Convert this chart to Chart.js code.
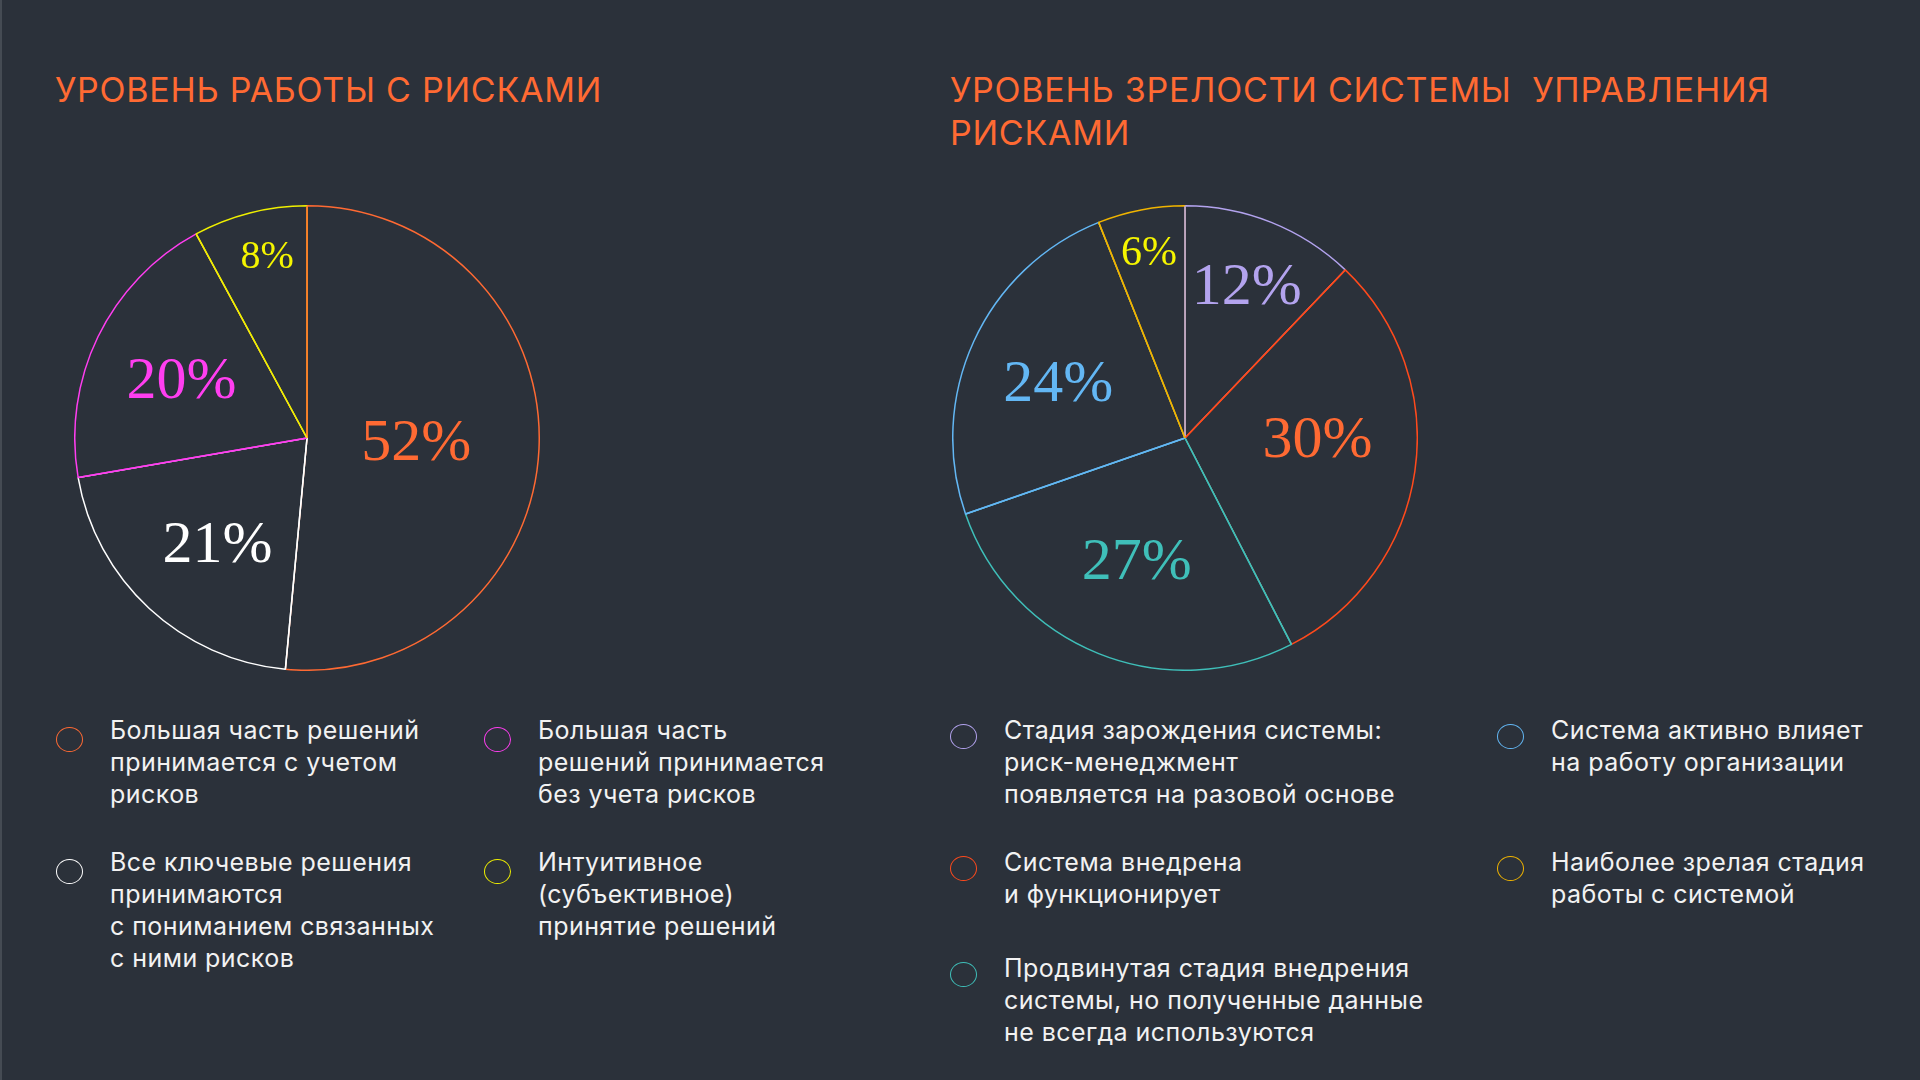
<!DOCTYPE html>
<html lang="ru">
<head>
<meta charset="utf-8">
<title>Риски</title>
<script src="https://cdn.jsdelivr.net/npm/chart.js@4.4.1/dist/chart.umd.min.js"></script>
<style>
  html, body { margin: 0; padding: 0; }
  body {
    width: 1920px; height: 1080px; overflow: hidden; position: relative;
    background: #2b313a; border-left: 2px solid #454b53; box-sizing: border-box;
    font-family: Inter, Roboto, "Noto Sans", sans-serif; color: #f2f2f2;
  }
  .title {
    position: absolute; top: 68px; margin: 0;
    font-size: 34px; font-weight: 400; line-height: 43px; color: #ff6a33;
    white-space: pre; letter-spacing: 0.75px;
  }
  .pie { position: absolute; top: 205px; }
  .legend {
    position: absolute; top: 714px; display: grid; grid-auto-flow: column;
  }
  .item { display: flex; align-items: flex-start; }
  .dot {
    flex: none; width: 25px; height: 23px; border-radius: 50%;
    border: 1.5px solid #fff; margin-right: 27px;
  }
  .txt { font-size: 25px; line-height: 32px; letter-spacing: 0.45px; white-space: pre; }
  #legendA { left: 54px; grid-template-columns: 428px 400px; grid-template-rows: 132px 140px; }
  #legendA .dot { margin-top: 13px; }
  #legendB { left: 948px; grid-template-columns: 547px 400px; grid-template-rows: 132px 106px 120px; }
  #legendB .dot { margin-top: 10px; }
</style>
</head>
<body>
<h2 class="title" id="titleA" style="left:53px"></h2>
<h2 class="title" id="titleB" style="left:948px"></h2>
<canvas id="pieA" class="pie" width="466" height="466" style="left:72px"></canvas>
<canvas id="pieB" class="pie" width="466" height="466" style="left:950px"></canvas>
<div class="legend" id="legendA"></div>
<div class="legend" id="legendB"></div>

<script>
  // --- left chart: уровень работы с рисками
  const titleA = ['УРОВЕНЬ РАБОТЫ С РИСКАМИ'];
  const labelsA = [
    ['Большая часть решений', 'принимается с учетом', 'рисков'],
    ['Все ключевые решения', 'принимаются', 'с пониманием связанных', 'с ними рисков'],
    ['Большая часть', 'решений принимается', 'без учета рисков'],
    ['Интуитивное', '(субъективное)', 'принятие решений']
  ];
  const valuesA = [52, 21, 20, 8];

  // --- right chart: уровень зрелости системы
  const titleB = ['УРОВЕНЬ ЗРЕЛОСТИ СИСТЕМЫ  УПРАВЛЕНИЯ', 'РИСКАМИ'];
  const labelsB = [
    ['Стадия зарождения системы:', 'риск-менеджмент', 'появляется на разовой основе'],
    ['Система внедрена', 'и функционирует'],
    ['Продвинутая стадия внедрения', 'системы, но полученные данные', 'не всегда используются'],
    ['Система активно влияет', 'на работу организации'],
    ['Наиболее зрелая стадия', 'работы с системой']
  ];
  const valuesB = [12, 30, 27, 24, 6];

  // styles
  const BG = '#2b313a';
  const lineColorsA = ['#ff6a33', '#ffffff', '#ff3ef0', '#f0f000'];
  const textColorsA = ['#ff6a33', '#ffffff', '#ff3ef0', '#f5f500'];
  const lineColorsB = ['#b3a3ee', '#ff4a1c', '#3fbfb9', '#63b7f4', '#f0b400'];
  const textColorsB = ['#b3a3ee', '#ff6a33', '#3fbfb9', '#63b7f4', '#f5f500'];
  // label placement: fraction of radius, and turn (degrees) from the slice middle
  const labelDistA = [0.47, 0.59, 0.6, 0.81];
  const labelTurnA = [-2, -2, 0, 2];
  const labelDistB = [0.715, 0.57, 0.56, 0.6, 0.82];
  const labelTurnB = [0, -9, 0, 0, 0];
  const labelSizeA = [60, 60, 60, 40];
  const labelSizeB = [60, 60, 60, 60, 42];

  // percent labels + start edge of each slice in its own colour
  const sliceDecor = {
    id: 'sliceDecor',
    afterDatasetsDraw(chart, args, opts) {
      const ctx = chart.ctx;
      const meta = chart.getDatasetMeta(0);
      const ds = chart.data.datasets[0];
      ctx.save();
      meta.data.forEach((arc, i) => {
        const p = arc.getProps(['x', 'y', 'startAngle', 'endAngle', 'outerRadius'], true);
        ctx.strokeStyle = ds.borderColor[i];
        ctx.lineWidth = ds.borderWidth;
        ctx.beginPath();
        ctx.moveTo(p.x, p.y);
        ctx.lineTo(p.x + Math.cos(p.startAngle) * p.outerRadius, p.y + Math.sin(p.startAngle) * p.outerRadius);
        ctx.stroke();
      });
      meta.data.forEach((arc, i) => {
        const p = arc.getProps(['x', 'y', 'startAngle', 'endAngle', 'outerRadius'], true);
        const mid = (p.startAngle + p.endAngle) / 2 + opts.turn[i] * Math.PI / 180;
        const r = p.outerRadius * opts.dist[i];
        const size = opts.sizes[i];
        ctx.fillStyle = opts.colors[i];
        ctx.font = size + 'px "Liberation Serif", "Times New Roman", serif';
        ctx.textAlign = 'center';
        ctx.textBaseline = 'middle';
        ctx.fillText(ds.data[i] + '%', p.x + Math.cos(mid) * r, p.y + Math.sin(mid) * r + size * 0.08);
      });
      ctx.restore();
    }
  };

  function makePie(canvasId, labels, values, lineColors, textColors, dist, turn, sizes) {
    return new Chart(document.getElementById(canvasId), {
      type: 'pie',
      data: {
        labels: labels.map(l => l.join(' ')),
        datasets: [{
          data: values,
          backgroundColor: values.map(() => BG),
          borderColor: lineColors,
          borderWidth: 1.5
        }]
      },
      options: {
        responsive: false,
        animation: false,
        events: [],
        layout: { padding: 0 },
        plugins: {
          legend: { display: false },
          tooltip: { enabled: false },
          sliceDecor: { colors: textColors, dist: dist, turn: turn, sizes: sizes }
        }
      },
      plugins: [sliceDecor]
    });
  }

  function makeLegend(elId, labels, colors) {
    const el = document.getElementById(elId);
    labels.forEach((lines, i) => {
      const item = document.createElement('div');
      item.className = 'item';
      const dot = document.createElement('span');
      dot.className = 'dot';
      dot.style.borderColor = colors[i];
      const txt = document.createElement('div');
      txt.className = 'txt';
      txt.textContent = lines.join('\n');
      item.appendChild(dot);
      item.appendChild(txt);
      el.appendChild(item);
    });
  }

  document.getElementById('titleA').textContent = titleA.join('\n');
  document.getElementById('titleB').textContent = titleB.join('\n');
  makePie('pieA', labelsA, valuesA, lineColorsA, textColorsA, labelDistA, labelTurnA, labelSizeA);
  makePie('pieB', labelsB, valuesB, lineColorsB, textColorsB, labelDistB, labelTurnB, labelSizeB);
  makeLegend('legendA', labelsA, lineColorsA);
  makeLegend('legendB', labelsB, lineColorsB);
</script>
</body>
</html>
